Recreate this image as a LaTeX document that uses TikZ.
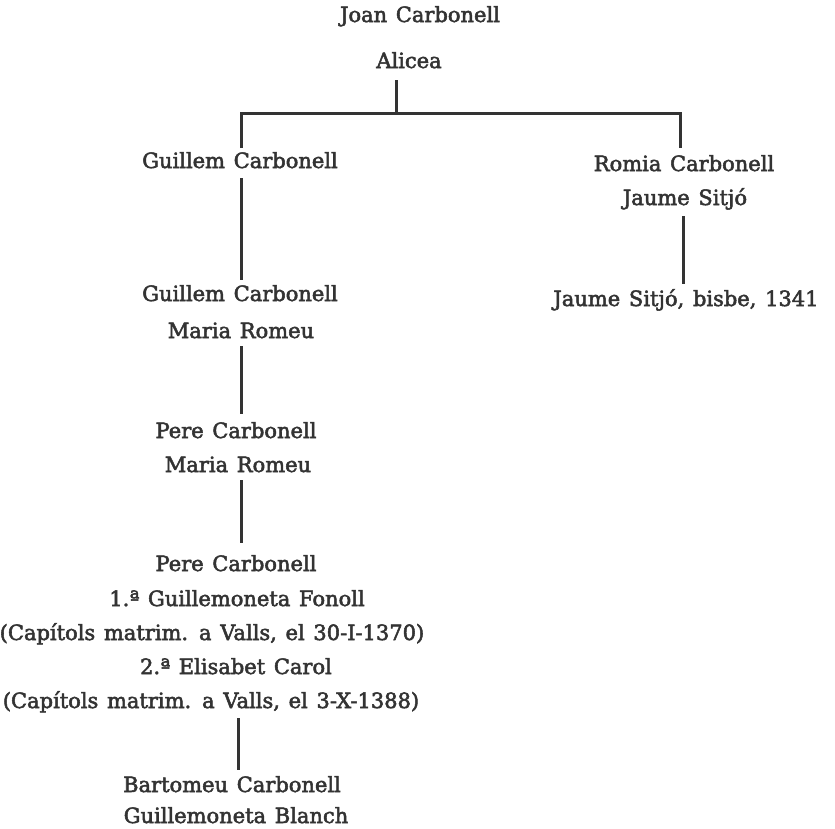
\documentclass[tikz,border=0pt]{standalone}
\usepackage{fontspec}
\setmainfont{DejaVu Serif}[FakeBold=2.5,WordSpace=1.3]
\definecolor{ink}{HTML}{333333}
\begin{document}
\begin{tikzpicture}[x=1pt,y=-1pt,
  person/.style={anchor=base,inner sep=0pt,text=ink,font=\fontsize{21}{26}\selectfont},
  link/.style={draw=ink,line width=3pt}]
\useasboundingbox (0,0) rectangle (835,828);
% names
\node[person] (joan)    at (420,22)  {Joan Carbonell};
\node[person] (alicea)  at (409,68)  {Alicea};
\node[person] (guil1)   at (240,168) {Guillem Carbonell};
\node[person] (guil2)   at (240,301) {Guillem Carbonell};
\node[person] (maria1)  at (241,338) {Maria Romeu};
\node[person] (pere1)   at (236,438) {Pere Carbonell};
\node[person] (maria2)  at (238,472) {Maria Romeu};
\node[person] (pere2)   at (236,571) {Pere Carbonell};
\node[person] (fonoll)  at (237,606) {1.ª Guillemoneta Fonoll};
\node[person] (cap1)    at (212,640) {(Capítols matrim. a Valls, el 30-I-1370)};
\node[person] (carol)   at (236,674) {2.ª Elisabet Carol};
\node[person] (cap2)    at (211,708) {(Capítols matrim. a Valls, el 3-X-1388)};
\node[person] (barto)   at (232,792) {Bartomeu Carbonell};
\node[person] (blanch)  at (236,823) {Guillemoneta Blanch};
\node[person] (romia)   at (684,171) {Romia Carbonell};
\node[person] (jaume1)  at (685,205) {Jaume Sitjó};
\node[person] (jaume2)  at (686,306) {Jaume Sitjó, bisbe, 1341};
% connector points
\coordinate (tick)  at (396,80);
\coordinate (mid)   at (396,113);
\coordinate (lcorn) at (241,113);
\coordinate (rcorn) at (680,113);
\coordinate (ldrop) at (241,148);
\coordinate (rdrop) at (680,148);
\coordinate (a1) at (241,178); \coordinate (a2) at (241,280);
\coordinate (b1) at (241,346); \coordinate (b2) at (241,414);
\coordinate (c1) at (241,480); \coordinate (c2) at (241,543);
\coordinate (d1) at (238,718); \coordinate (d2) at (238,770);
\coordinate (e1) at (683,216); \coordinate (e2) at (683,284);
\draw[link] (tick) -- (mid);
\draw[link] (ldrop) -- (lcorn) -- (rcorn) -- (rdrop);
\draw[link] (a1) -- (a2);
\draw[link] (b1) -- (b2);
\draw[link] (c1) -- (c2);
\draw[link] (d1) -- (d2);
\draw[link] (e1) -- (e2);
\end{tikzpicture}
\end{document}
